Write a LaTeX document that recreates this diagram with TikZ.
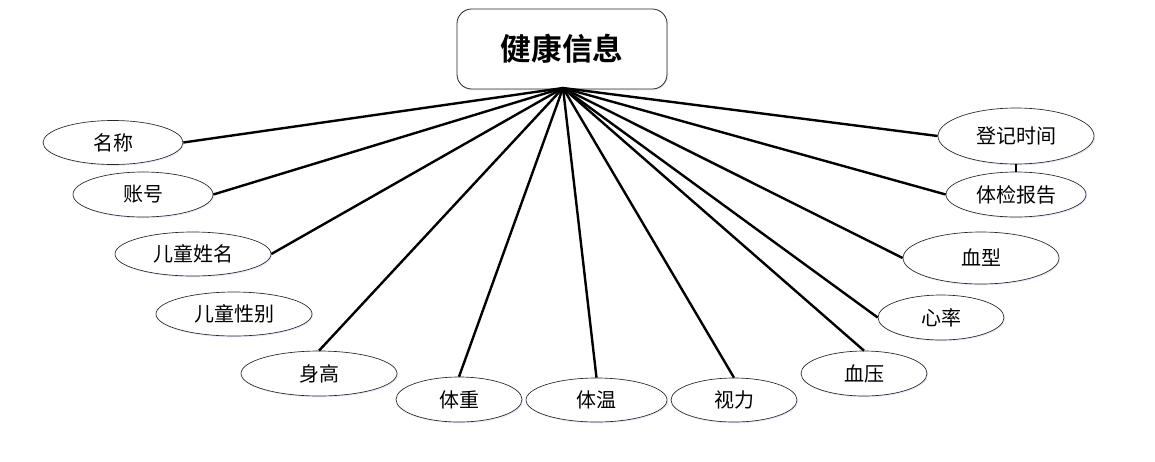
\documentclass[tikz,border=0pt]{standalone}
\usepackage{fontspec}
\newfontfamily\cjk{Noto Sans CJK SC}
\newfontfamily\cjkb{Noto Sans CJK SC Bold}
\usetikzlibrary{shapes.geometric,shadows}
\begin{document}
\begin{tikzpicture}[x=0.75pt,y=-0.75pt,
  attr/.style={ellipse,draw=black!85,line width=0.5pt,fill=white,inner sep=0pt,
    font=\cjk\fontsize{15pt}{16pt}\selectfont,
    drop shadow={shadow xshift=0.8pt,shadow yshift=-1pt,fill=blue!10,opacity=0.8}},
  ent/.style={rectangle,rounded corners=11pt,draw=black!85,line width=0.6pt,fill=white,
    minimum width=157.5pt,minimum height=60pt,inner sep=0pt,
    font=\cjkb\fontsize{23pt}{26pt}\selectfont,
    drop shadow={shadow xshift=0.8pt,shadow yshift=-1pt,fill=blue!10,opacity=0.8}},
  link/.style={line width=1.8pt,black}]
\useasboundingbox (0,0) rectangle (1155,461);
\node[ent] (root) at (562,49) {健康信息};
\coordinate (hub) at (563,88);
% left
\node[attr,minimum width=105pt,minimum height=33pt] (mc) at (113,142.5) {名称};
\node[attr,minimum width=105pt,minimum height=33.75pt] (zh) at (143,194.5) {账号};
\node[attr,minimum width=117pt,minimum height=33pt] (xm) at (193,254) {儿童姓名};
\node[attr,minimum width=117pt,minimum height=33pt] (xb) at (234,314) {儿童性别};
% bottom
\node[attr,minimum width=117pt,minimum height=33.75pt] (sg) at (319,373.5) {身高};
\node[attr,minimum width=94.5pt,minimum height=33.75pt] (tz) at (459,399.5) {体重};
\node[attr,minimum width=105.75pt,minimum height=33pt] (tw) at (596.5,400) {体温};
\node[attr,minimum width=94.5pt,minimum height=33pt] (sl) at (734,400) {视力};
\node[attr,minimum width=94.5pt,minimum height=33.75pt] (xy) at (864,373.5) {血压};
% right
\node[attr,minimum width=94.5pt,minimum height=33.75pt] (xl) at (941,317.5) {心率};
\node[attr,minimum width=117pt,minimum height=39pt] (xx) at (981,258) {血型};
\node[attr,minimum width=105pt,minimum height=33.75pt] (bg) at (1016,194.5) {体检报告};
\node[attr,minimum width=117pt,minimum height=42pt] (dj) at (1016,136) {登记时间};
% connectors
\foreach \n in {mc,zh,xm}
  \draw[link] (hub) -- (\n.east);
\foreach \n in {sg,tz,tw,sl,xy}
  \draw[link] (hub) -- (\n.north);
\foreach \n in {xl,xx,bg,dj}
  \draw[link] (hub) -- (\n.west);
\draw[line width=1pt] (dj) -- (bg);
\end{tikzpicture}
\end{document}
